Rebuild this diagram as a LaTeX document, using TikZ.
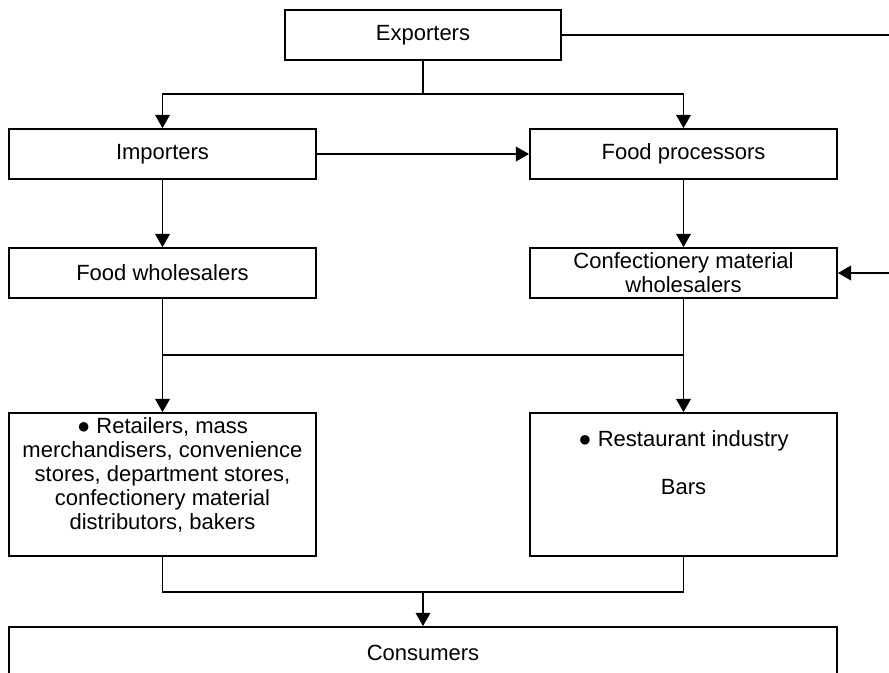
\documentclass[tikz,border=0pt]{standalone}
\usepackage{fontspec}
\setmainfont{Liberation Sans}
\usetikzlibrary{arrows.meta}
\begin{document}
\begin{tikzpicture}[x=0.75pt,y=-0.75pt,
  every node/.style={font=\fontsize{16.5}{18}\selectfont},
  box/.style={draw,line width=1.3pt,minimum width=230.25pt,minimum height=37.5pt,inner sep=0pt},
  arr/.style={-{Triangle[length=10pt,width=11pt]}},
  conn/.style={line width=1.3pt}]
\useasboundingbox (0,0) rectangle (889,672);
\node[box,minimum width=207pt] (exp) at (423,35) {Exporters};
\node[box] (imp) at (162.5,154) {Importers};
\node[box] (fproc) at (683.5,154) {Food processors};
\node[box] (fwhole) at (162.5,273) {Food wholesalers};
\node[box,align=center] (cwhole) at (683.5,273) {Confectionery material\\wholesalers};
\node[box,minimum height=107.25pt] (retail) at (162.5,484.5) {};
\node[align=center] (retailtxt) at (162.5,474.5) {● Retailers, mass\\merchandisers, convenience\\stores, department stores,\\confectionery material\\distributors, bakers};
\node[box,minimum height=107.25pt] (rest) at (683.5,484.5) {};
\node[align=center] (resttxt) at (683.5,463) {● Restaurant industry\\[18pt]Bars};
\node[box,minimum width=621pt,minimum height=39pt] (cons) at (423,653) {Consumers};
% joints
\coordinate (e1) at (893,35);
\coordinate (e2) at (893,273);
\coordinate (j1) at (423,94);
\coordinate (j2l) at (162.5,355);
\coordinate (j2r) at (683.5,355);
\coordinate (j3) at (423,592);
\draw[conn,arr,line width=1.6pt] (exp) -- (e1) -- (e2) -- (cwhole);
\draw[conn] (exp) -- (j1);
\draw[conn,arr] (j1) -| (imp);
\draw[conn,arr] (j1) -| (fproc);
\draw[conn,arr] (imp) -- (fproc);
\draw[conn,arr] (imp) -- (fwhole);
\draw[conn,arr] (fproc) -- (cwhole);
\draw[conn,arr] (fwhole) -- (j2l) -- (retail);
\draw[conn,arr] (cwhole) -- (j2r) -- (rest);
\draw[line width=0.9pt] (j2l) -- (j2r);
\draw[conn] (retail) |- (j3);
\draw[conn] (rest) |- (j3);
\draw[conn,arr] (j3) -- (cons);
\end{tikzpicture}
\end{document}
